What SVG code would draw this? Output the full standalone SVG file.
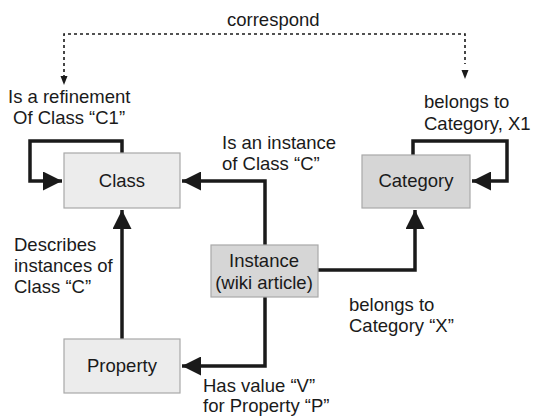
<svg xmlns="http://www.w3.org/2000/svg" width="533" height="416" viewBox="0 0 533 416">
<defs>
<style>
.box{stroke:#a8a8a8;stroke-width:1.2}
.light{fill:#ececec}
.dark{fill:#d6d6d6}
.lbl{font-family:"Liberation Sans",Arial,sans-serif;font-size:18.5px;fill:#1a1a1a}
.ntx{font-family:"Liberation Sans",Arial,sans-serif;font-size:18.5px;fill:#1a1a1a;text-anchor:middle}
.edge{fill:none;stroke:#1a1a1a;stroke-width:3.5}
.dot{fill:none;stroke:#1a1a1a;stroke-width:1.6;stroke-dasharray:3 3}
</style>
<marker id="ah" viewBox="0 0 10 10" refX="10" refY="5" markerUnits="userSpaceOnUse" markerWidth="19" markerHeight="19" orient="auto">
<path d="M0,0 L10,5 L0,10 Z" fill="#1a1a1a"/>
</marker>
</defs>
<g id="connectors">
<path class="dot" d="M64,78 V34 H465 V64"/>
<path d="M60.5,76 H67.5 L64,85 Z" fill="#1a1a1a"/>
<path d="M461.5,70 H468.5 L465,79 Z" fill="#1a1a1a"/>
<path class="edge" d="M122,153 V141 H30 V181 H62" marker-end="url(#ah)"/>
<path class="edge" d="M413,155 V141 H507 V181 H472" marker-end="url(#ah)"/>
<path class="edge" d="M265,245 V181 H182" marker-end="url(#ah)"/>
<path class="edge" d="M318,270 H415 V210" marker-end="url(#ah)"/>
<path class="edge" d="M265,297 V366 H182" marker-end="url(#ah)"/>
<path class="edge" d="M122,339 V210" marker-end="url(#ah)"/>
</g>
<g id="class"><rect class="box light" x="64" y="153" width="116" height="55"/><text class="ntx" x="122" y="187">Class</text></g>
<g id="category"><rect class="box dark" x="362" y="155" width="108" height="53"/><text class="ntx" x="416" y="187">Category</text></g>
<g id="instance"><rect class="box dark" x="211" y="245" width="107" height="52"/><text class="ntx" x="264" y="267">Instance</text><text class="ntx" x="264" y="289">(wiki article)</text></g>
<g id="property"><rect class="box light" x="64" y="339" width="116" height="54"/><text class="ntx" x="122" y="372">Property</text></g>
<g id="labels">
<text class="lbl" x="227" y="26">correspond</text>
<text class="lbl" x="8" y="103">Is a refinement</text>
<text class="lbl" x="13" y="124">Of Class “C1”</text>
<text class="lbl" x="424" y="108">belongs to</text>
<text class="lbl" x="424" y="130">Category, X1</text>
<text class="lbl" x="222" y="149">Is an instance</text>
<text class="lbl" x="222" y="170">of Class “C”</text>
<text class="lbl" x="14" y="251">Describes</text>
<text class="lbl" x="14" y="272">instances of</text>
<text class="lbl" x="14" y="293">Class “C”</text>
<text class="lbl" x="349" y="311">belongs to</text>
<text class="lbl" x="349" y="332">Category “X”</text>
<text class="lbl" x="203" y="392">Has value “V”</text>
<text class="lbl" x="203" y="412">for Property “P”</text>
</g>
</svg>
